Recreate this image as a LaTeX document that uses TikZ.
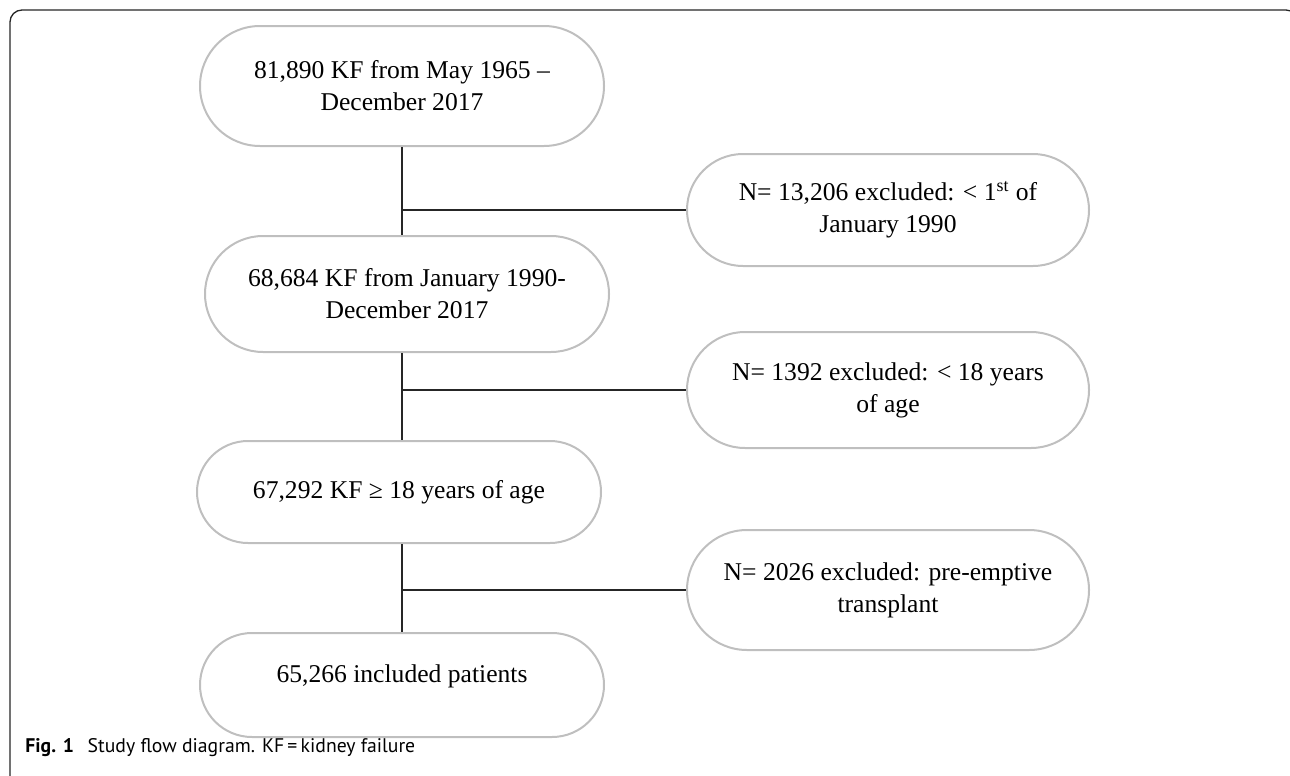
\documentclass[tikz,border=0pt]{standalone}
\usepackage{fontspec}
\setmainfont{Liberation Serif}
\newfontfamily\capfont{PT Sans}
\usetikzlibrary{positioning,shapes.misc}

\begin{document}
\begin{tikzpicture}[x=0.5pt,y=-0.5pt]
    \tikzstyle{every node}=[inner sep=0,align=center,font=\fontsize{12.8}{16}\selectfont]
    \tikzstyle{stage}=[rounded rectangle,draw=gray!50,line width=1pt,minimum width=202pt]
    \tikzstyle{excl}=[stage,minimum width=201pt]
    \tikzstyle{link}=[line width=0.65pt,black!85]
    \tikzstyle{caption}=[font=\capfont\fontsize{9.85}{11}\selectfont,anchor=base west]
    {
        \useasboundingbox (0,0) rectangle (1290,776);
        \draw[link,rounded corners=6pt] (10,10) rectangle (1298,788);

        \node[stage,minimum height=60pt] (all) at (402,86) {81,890 KF from May 1965 –\\December 2017};
        \node[stage,minimum height=58pt] (y1990) at (407,294) {68,684 KF from January 1990-\\December 2017};
        \node[stage,minimum height=51pt] (adult) at (399,492) {67,292 KF ≥ 18 years of age};
        \node[stage,minimum height=52pt,text depth=11pt] (incl) at (402,685) {65,266 included patients};

        \node[excl,minimum height=56pt] (ex1) at (888,210) {N= 13,206 excluded: < 1\textsuperscript{st} of\\January 1990};
        \node[excl,minimum height=58pt] (ex2) at (888,390) {N= 1392 excluded: < 18 years\\of age};
        \node[excl,minimum height=60pt] (ex3) at (888,590) {N= 2026 excluded: pre-emptive\\transplant};

        \draw[link] (all.south) -- (all.south |- y1990.north);
        \draw[link] (all.south |- y1990.south) -- (all.south |- adult.north);
        \draw[link] (all.south |- adult.south) -- (all.south |- incl.north);

        \draw[link] (all.south |- ex1.west) -- (ex1.west);
        \draw[link] (all.south |- ex2.west) -- (ex2.west);
        \draw[link] (all.south |- ex3.west) -- (ex3.west);

        \node[caption] (cap) at (25,752) {\textbf{Fig. 1}\hspace{0.7em}Study flow diagram. KF\,=\,kidney failure};
    }
\end{tikzpicture}
\end{document}
